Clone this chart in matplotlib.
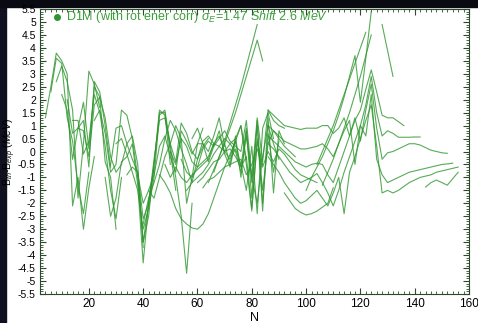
import numpy as np
import matplotlib.pyplot as plt
from matplotlib.ticker import MultipleLocator, FuncFormatter
from matplotlib.patches import Rectangle

plt.rcParams['font.family'] = ['Liberation Sans', 'DejaVu Sans']
plt.rcParams['mathtext.fontset'] = 'custom'
plt.rcParams['mathtext.rm'] = 'Liberation Sans'
plt.rcParams['mathtext.it'] = 'Liberation Sans:italic'

# B_th - B_exp (MeV) along chains, even N, first N given in n_first
n_first = [4, 6, 8, 10, 12, 14, 16, 22, 26, 28, 30, 34, 38, 46, 48,
           66, 64, 50, 54, 56, 60, 62, 40, 42,
           100, 104, 106, 128, 86, 86, 86, 86, 86, 144, 92,
           70, 72, 58]

b01 = [1.3, 2.5, 3.8, 3.5, 3.0, -2.1, -1.0, -3.0, -1.4, -0.2]
b02 = [2.3, 3.6, 3.4, 1.3, 0.4, -1.3, -2.4, -0.8]
b03 = [2.7, 3.3, 2.7, 1.6, -1.8, 0.3, 3.1, 2.6, 1.7]
b04 = [2.2, 1.6, -0.3, 0.9, 1.2, -0.6, 2.7, 2.3, 1.0, -0.6]
b05 = [2.0, 0.7, 0.9, 1.9, 0.1, 2.5, 2.1, -0.4, -1.0, -3.0]
b06 = [1.2, 1.2, -0.1, 0.4, 2.2, 1.5, 0.2, -1.5, -2.6, -1.0]
b07 = [0.9, 0.8, -0.2, 1.8, 2.1, 1.3, -0.2, -0.8, -0.5, 0.3, 0.6, -0.5, -3.7]
b08 = [1.2, 1.6, 0.7, -0.8, -0.5, 1.6, 1.4, 0.5, -1.0, -3.5, -2.0, -0.6]
b09 = [-1.0, -2.5, -1.8, -0.4, -0.2, 0.3, -1.3, -4.3, -2.0, -0.5, 1.6, 1.4, -0.5]
b10 = [-0.5, 0.9, 1.0, 0.3, -0.3, -0.8, -3.5, -2.5, -0.5, 1.5, 1.5, 0.0, -1.5]
b11 = [0.3, 0.5, -0.1, -0.8, -1.5, -3.0, -2.2, -1.0, 1.4, 1.6, 0.2, -1.0,
       -2.5, -4.7, -2.0]
b12 = [-0.9, -0.6, -0.8, -2.6, -2.0, -0.3, 1.2, 1.3, 0.3, -0.4, 1.1, 0.7,
       0.0, -0.3, 0.2, 0.5]
b13 = [-0.9, -2.0, -1.5, -0.9, 0.2, 0.6, -0.2, -0.8, 0.8, 0.4, -0.1, 0.3,
       0.3, 0.0, 0.6, 1.3, 0.2]
b14 = [-0.9, -1.2, -1.6, -2.2, -2.6, -2.8, -2.95, -3.0, -2.8, -2.4, -1.8,
       -1.2, -0.6, -0.1, 0.4]
b15 = [-0.5, -1.0, -0.6, -1.0, -1.2, -0.9, -0.7, -0.5, -0.3, 0.3, 0.2, 0.0,
       0.3, 0.5, 1.0, -0.5, -2.3, 0.4, -0.5]
b16 = [-0.8, -0.2, 0.4, 1.1, 1.8, 2.5, 3.3, 4.1, 4.9]
b17 = [-1.2, -0.7, -0.2, 0.3, 0.9, 1.5, 2.2, 2.9, 3.6, 4.3, 3.5]
b18 = [0.0, -0.5, 0.5, 0.2, -0.4, -0.6, 0.1, 0.4, 0.2, 0.5, 0.8, 0.4, 0.2,
       0.0, 1.2, -1.0, -2.0, -0.2, 1.0, 0.3, -0.3]
b19 = [-0.3, -0.8, -1.0, -0.6, -0.4, -0.2, 0.3, 0.6, 0.0, -0.3, 0.1, -0.5,
       -1.5, 0.2, -2.4, 0.9, 1.5, 0.5]
b20 = [-1.5, -1.2, -1.0, -0.8, -0.5, -0.1, 0.2, 0.5, 0.3, 0.0, -0.8, 0.6,
       -1.0, 1.3, -0.4, 1.6, 1.2, 1.0, 0.9]
b21 = [-1.2, -1.0, -0.7, -0.4, -0.3, 0.0, 0.1, -0.2, -0.6, -0.2, -2.2, 0.5,
       -1.5, 0.3, 0.8, 0.5, 0.2, 0.0, -0.2]
b22 = [-1.4, -1.1, -1.0, -0.8, -0.6, -0.5, -0.4, -0.3, -0.9, -0.5, 0.1,
       -0.6, 0.0, -0.4, 0.1, -0.1, -0.4, -0.7, -0.9, -1.0, -1.1, -1.2]
b23 = [-2.8, -1.8, -1.2, -0.5, 0.5, 1.2, 0.8, 0.1, -0.5, -1.2, -0.3, 0.4,
       0.6, 0.3]
b24 = [-1.5, -1.8, -1.0, -0.2, 0.3, 1.0, 0.5, -2.0, -1.0, 0.3, 0.9]
b25 = [-1.5, -1.0, -0.6, -0.2, 0.3, 0.8, 1.4, 2.1, 2.9, 3.7, 1.9, 3.6, 5.4]
b26 = [-0.5, 0.0, 0.5, 1.0, 1.6, 2.2, 2.8, 3.4, 4.0, 4.6]
b27 = [-1.3, -0.8, -0.3, 0.3, 0.9, 1.5, 2.2, 2.9, 3.7, 4.5]
b28 = [4.9, 3.9, 2.9]
b29 = [1.6, 1.4, 1.2, 1.0, 0.95, 0.9, 0.85, 0.9, 0.9,
       0.9, 1.0, 1.0, 0.7, 0.9, 1.3, 0.6, 1.2, 1.6, 2.4, 3.15, 2.3, 1.4,
       1.3, 1.3, 1.15, 1.0]
b30 = [1.0, 0.8, 0.6, 0.4, 0.3, 0.2, 0.1, 0.1, 0.15,
       0.2, 0.3, 0.1, -0.2, 0.3, 0.8, 1.2, -0.5, 1.0, 1.8, 2.9, 1.5, 0.6,
       0.8, 0.7, 0.55, 0.55, 0.55, 0.56, 0.56]
b31 = [0.6, 0.4, 0.2, 0.0, -0.2, -0.4, -0.5, -0.6, -0.5,
       -0.45, -0.5, -0.9, -1.2, -0.6, 0.0, 0.6, 1.3, 0.4, 1.6, 2.6, 0.9,
       -0.3, -0.05, 0.0, 0.1, 0.2, 0.3, 0.3, 0.25, 0.15, 0.05, 0.0, -0.05,
       -0.07]
b32 = [0.3, 0.1, -0.2, -0.5, -0.8, -1.0, -1.2, -1.1, -1.0,
       -0.85, -1.2, -1.6, -2.1, -1.5, -0.8, -0.2, 0.4, 1.0, 0.6, 2.2, -0.3,
       -0.9, -1.2, -1.1, -1.0, -0.9, -0.8, -0.75, -0.7, -0.65, -0.6, -0.55,
       -0.5, -0.48, -0.45]
b33 = [-0.2, -0.5, -0.8, -1.2, -1.5, -1.8, -2.0, -1.9, -1.7,
       -1.5, -1.8, -2.1, -1.6, -1.0, -2.4, -0.8, -0.2, 0.5, 1.2, 1.8, 0.2,
       -1.6, -1.5, -1.6, -1.5, -1.35, -1.2, -1.1, -1.0, -0.95, -0.9, -0.8,
       -0.75, -0.7, -0.65, -0.6]
b34 = [-1.37, -1.2, -1.1, -1.2, -1.3, -1.05, -0.8]
b35 = [-1.6, -1.9, -2.2, -2.35, -2.45, -2.4, -2.3, -2.15, -2.0, -1.4]
b36 = [0.3, -0.5, 0.6, -1.0, 0.8, -1.8, 1.2, -2.0, 0.7, -0.8, 0.4]
b37 = [-0.2, 0.4, -0.6, 0.9, -1.2, 1.0, -2.3, 1.3, -1.6, 0.8, 0.3]
b38 = [0.5, 0.9, 0.3, -0.4, 0.2, 0.8, -0.1, -0.6, 0.4, 1.0, -0.3]

chains = [b01, b02, b03, b04, b05, b06, b07, b08, b09, b10, b11, b12, b13,
          b14, b15, b16, b17, b18, b19, b20, b21, b22, b23, b24, b25, b26,
          b27, b28, b29, b30, b31, b32, b33, b34, b35, b36, b37, b38]

fig = plt.figure(figsize=(4.78, 3.23), dpi=100)
fig.patch.set_facecolor('white')
fig.patches.append(Rectangle((0, 0), 6 / 478, 1, transform=fig.transFigure,
                             color='#10101e', zorder=-5))
fig.patches.append(Rectangle((0, 1 - 7 / 323), 1, 7 / 323,
                             transform=fig.transFigure, color='#0a0a12',
                             zorder=-5))

ax = fig.add_axes([40 / 478, 1 - 294 / 323, 429 / 478, 285 / 323])

for n0, b in zip(n_first, chains):
    n = n0 + 2 * np.arange(len(b))
    ax.plot(n, b, color='#2e962e', lw=0.8, alpha=0.8)

ax.set_xlim(2, 160)
ax.set_ylim(-5.5, 5.5)
ax.xaxis.set_major_locator(MultipleLocator(20))
ax.xaxis.set_minor_locator(MultipleLocator(2))
ax.yaxis.set_major_locator(MultipleLocator(0.5))
ax.yaxis.set_minor_locator(MultipleLocator(0.1))
ax.yaxis.set_major_formatter(FuncFormatter(lambda v, p: '%g' % v))
ax.tick_params(which='both', direction='in', top=True, right=True,
               colors='#2a4a2a', labelcolor='black', labelsize=7.5)
ax.tick_params(axis='x', labelsize=8.5)
ax.tick_params(which='major', length=4, width=0.8, pad=3)
ax.tick_params(which='minor', length=2, width=0.6)
for s in ax.spines.values():
    s.set_color('#2a4a2a')

ax.set_xlabel('N', fontsize=9, labelpad=1)
ax.set_ylabel(r'B$_{th}$-B$_{exp}$ $\it{(MeV)}$', fontsize=7.5,
              color='black')
ax.yaxis.set_label_coords(-0.051, 0.5)

ax.plot([8.3], [5.18], 'o', color='#2e962e', ms=4)
ax.text(11.4, 5.18, r'D1M (with rot ener corr) $\sigma_E$=1.47 $\it{Shift\ 2.6\ MeV}$',
        color='#3aa03a', fontsize=9, va='center')

fig.savefig('out.png', dpi=100)
